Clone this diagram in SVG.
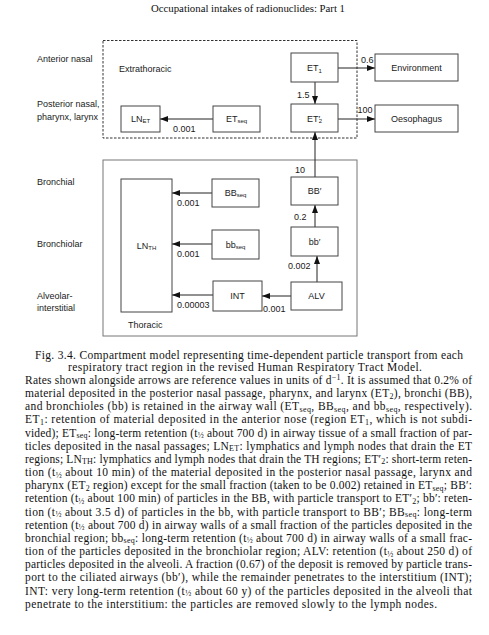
<svg xmlns="http://www.w3.org/2000/svg" width="489" height="635" viewBox="0 0 489 635">
<style>
.box{fill:#fff;stroke:#444;stroke-width:1}
.lbl{font-family:"Liberation Sans",Arial,sans-serif;font-size:9px;fill:#1a1a1a}
.c{text-anchor:middle}
.sub{font-size:6px}
.pr{font-size:9px}
.con{stroke:#222;stroke-width:1;fill:none;marker-end:url(#ah)}
.ser{font-family:"Liberation Serif","Times New Roman",serif;font-size:11.5px;fill:#111}
.s{font-size:8px}
</style>
<defs>
<marker id="ah" markerUnits="userSpaceOnUse" markerWidth="8" markerHeight="6" refX="8" refY="3" orient="auto">
<path d="M0,0 L8,3 L0,6 z" fill="#111"/>
</marker>
</defs>
<rect width="489" height="635" fill="#fff"/>
<text class="ser" x="151" y="12" style="font-size:10.8px" textLength="194" lengthAdjust="spacing">Occupational intakes of radionuclides: Part 1</text>

<g id="regions">
<rect id="extrathoracic" x="103" y="40.5" width="254" height="97.5" fill="none" stroke="#333" stroke-width="1" stroke-dasharray="2.5,1.5"/>
<text class="lbl" x="119" y="71.5">Extrathoracic</text>
<rect id="thoracic" x="103" y="160" width="254" height="176" fill="none" stroke="#777" stroke-width="1"/>
<text class="lbl" x="128" y="328">Thoracic</text>
<text class="lbl" x="37" y="62">Anterior nasal</text>
<text class="lbl" x="37" y="107">Posterior nasal,</text>
<text class="lbl" x="37" y="119.5">pharynx, larynx</text>
<text class="lbl" x="37" y="185">Bronchial</text>
<text class="lbl" x="37" y="246.5">Bronchiolar</text>
<text class="lbl" x="37" y="299">Alveolar-</text>
<text class="lbl" x="37" y="311">interstitial</text>
</g>

<g id="connectors">
<line class="con" x1="338" y1="68" x2="375" y2="68"/>
<line class="con" x1="338" y1="119" x2="375" y2="119"/>
<line class="con" x1="315" y1="82" x2="315" y2="104"/>
<line class="con" x1="315" y1="177" x2="315" y2="132"/>
<line class="con" x1="315" y1="227" x2="315" y2="205"/>
<line class="con" x1="317" y1="282" x2="317" y2="256"/>
<line class="con" x1="291" y1="296" x2="262" y2="296"/>
<line class="con" x1="213" y1="119" x2="160" y2="119"/>
<line class="con" x1="212" y1="193" x2="172" y2="193"/>
<line class="con" x1="212" y1="244" x2="172" y2="244"/>
<line class="con" x1="213" y1="295" x2="172" y2="295"/>
<text class="lbl" x="361" y="63">0.6</text>
<text class="lbl" x="357.5" y="113">100</text>
<text class="lbl" x="297" y="98">1.5</text>
<text class="lbl" x="173" y="132">0.001</text>
<text class="lbl" x="295" y="173">10</text>
<text class="lbl" x="294" y="220">0.2</text>
<text class="lbl" x="288" y="269">0.002</text>
<text class="lbl" x="263" y="312">0.001</text>
<text class="lbl" x="177" y="206">0.001</text>
<text class="lbl" x="177" y="257">0.001</text>
<text class="lbl" x="177" y="308">0.00003</text>
</g>

<g id="ET1"><rect class="box" x="291" y="53" width="47" height="29"/><text class="lbl c" x="314.5" y="71">ET<tspan class="sub" dy="1.5">1</tspan></text></g>
<g id="Environment"><rect class="box" x="375" y="54" width="83" height="27"/><text class="lbl c" x="416.5" y="71">Environment</text></g>
<g id="ET2p"><rect class="box" x="291" y="104" width="47" height="28"/><text class="lbl c" x="314.5" y="121.5">ET<tspan class="pr">′</tspan><tspan class="sub" dx="-1.5" dy="1.5">2</tspan></text></g>
<g id="Oesophagus"><rect class="box" x="375" y="105" width="83" height="27"/><text class="lbl c" x="416.5" y="122">Oesophagus</text></g>
<g id="LNET"><rect class="box" x="121" y="106" width="39" height="26"/><text class="lbl c" x="140.5" y="122">LN<tspan class="sub" dy="1">ET</tspan></text></g>
<g id="ETseq"><rect class="box" x="213" y="106" width="47" height="26"/><text class="lbl c" x="236.5" y="122">ET<tspan class="sub" dy="1">seq</tspan></text></g>
<g id="LNTH"><rect class="box" x="121" y="179" width="51" height="133"/><text class="lbl c" x="146.5" y="249">LN<tspan class="sub" dy="1">TH</tspan></text></g>
<g id="BBseq"><rect class="box" x="212" y="179" width="47" height="28"/><text class="lbl c" x="235.5" y="196">BB<tspan class="sub" dy="1">seq</tspan></text></g>
<g id="bbseq"><rect class="box" x="212" y="230" width="47" height="29"/><text class="lbl c" x="235.5" y="247.5">bb<tspan class="sub" dy="1">seq</tspan></text></g>
<g id="INT"><rect class="box" x="213" y="281" width="49" height="30"/><text class="lbl c" x="237.5" y="299">INT</text></g>
<g id="BBp"><rect class="box" x="291" y="177" width="47" height="28"/><text class="lbl c" x="314.5" y="194">BB′</text></g>
<g id="bbp"><rect class="box" x="291" y="227" width="47" height="29"/><text class="lbl c" x="314.5" y="244.5">bb′</text></g>
<g id="ALV"><rect class="box" x="291" y="282" width="51" height="28"/><text class="lbl c" x="316.5" y="299">ALV</text></g>

<g id="caption">
<text class="ser" x="35" y="358.5" textLength="428" lengthAdjust="spacing">Fig. 3.4.  Compartment model representing time-dependent particle transport from each</text>
<text class="ser" x="68" y="371" textLength="354" lengthAdjust="spacing">respiratory tract region in the revised Human Respiratory Tract Model.</text>
<text class="ser" x="25" y="384" textLength="447" lengthAdjust="spacing">Rates shown alongside arrows are reference values in units of d<tspan class="s" dy="-4">−1</tspan><tspan dy="4">. It is assumed that 0.2% of</tspan></text>
<text class="ser" x="25" y="397" textLength="447" lengthAdjust="spacing">material deposited in the posterior nasal passage, pharynx, and larynx (ET<tspan class="s" dy="1.5">2</tspan><tspan dy="-1.5">), bronchi (BB),</tspan></text>
<text class="ser" x="25" y="410" textLength="447" lengthAdjust="spacing">and bronchioles (bb) is retained in the airway wall (ET<tspan class="s" dy="1.5">seq</tspan><tspan dy="-1.5">, BB</tspan><tspan class="s" dy="1.5">seq</tspan><tspan dy="-1.5">, and bb</tspan><tspan class="s" dy="1.5">seq</tspan><tspan dy="-1.5">, respectively).</tspan></text>
<text class="ser" x="25" y="423" textLength="447" lengthAdjust="spacing">ET<tspan class="s" dy="1.5">1</tspan><tspan dy="-1.5">: retention of material deposited in the anterior nose (region ET</tspan><tspan class="s" dy="1.5">1</tspan><tspan dy="-1.5">, which is not subdi-</tspan></text>
<text class="ser" x="25" y="436.5" textLength="447" lengthAdjust="spacing">vided); ET<tspan class="s" dy="1.5">seq</tspan><tspan dy="-1.5">: long-term retention (t</tspan><tspan class="s" dy="1.5">½</tspan><tspan dy="-1.5"> about 700 d) in airway tissue of a small fraction of par-</tspan></text>
<text class="ser" x="25" y="449.5" textLength="447" lengthAdjust="spacing">ticles deposited in the nasal passages; LN<tspan class="s" dy="1.5">ET</tspan><tspan dy="-1.5">: lymphatics and lymph nodes that drain the ET</tspan></text>
<text class="ser" x="25" y="462.5" textLength="447" lengthAdjust="spacing">regions; LN<tspan class="s" dy="1.5">TH</tspan><tspan dy="-1.5">: lymphatics and lymph nodes that drain the TH regions; ET′</tspan><tspan class="s" dy="1.5">2</tspan><tspan dy="-1.5">: short-term reten-</tspan></text>
<text class="ser" x="25" y="476" textLength="447" lengthAdjust="spacing">tion (t<tspan class="s" dy="1.5">½</tspan><tspan dy="-1.5"> about 10 min) of the material deposited in the posterior nasal passage, larynx and</tspan></text>
<text class="ser" x="25" y="489" textLength="447" lengthAdjust="spacing">pharynx (ET<tspan class="s" dy="1.5">2</tspan><tspan dy="-1.5"> region) except for the small fraction (taken to be 0.002) retained in ET</tspan><tspan class="s" dy="1.5">seq</tspan><tspan dy="-1.5">; BB′:</tspan></text>
<text class="ser" x="25" y="502" textLength="447" lengthAdjust="spacing">retention (t<tspan class="s" dy="1.5">½</tspan><tspan dy="-1.5"> about 100 min) of particles in the BB, with particle transport to ET′</tspan><tspan class="s" dy="1.5">2</tspan><tspan dy="-1.5">; bb′: reten-</tspan></text>
<text class="ser" x="25" y="515.5" textLength="447" lengthAdjust="spacing">tion (t<tspan class="s" dy="1.5">½</tspan><tspan dy="-1.5"> about 3.5 d) of particles in the bb, with particle transport to BB′; BB</tspan><tspan class="s" dy="1.5">seq</tspan><tspan dy="-1.5">: long-term</tspan></text>
<text class="ser" x="25" y="528.5" textLength="447" lengthAdjust="spacing">retention (t<tspan class="s" dy="1.5">½</tspan><tspan dy="-1.5"> about 700 d) in airway walls of a small fraction of the particles deposited in the</tspan></text>
<text class="ser" x="25" y="541.5" textLength="447" lengthAdjust="spacing">bronchial region; bb<tspan class="s" dy="1.5">seq</tspan><tspan dy="-1.5">: long-term retention (t</tspan><tspan class="s" dy="1.5">½</tspan><tspan dy="-1.5"> about 700 d) in airway walls of a small frac-</tspan></text>
<text class="ser" x="25" y="555" textLength="447" lengthAdjust="spacing">tion of the particles deposited in the bronchiolar region; ALV: retention (t<tspan class="s" dy="1.5">½</tspan><tspan dy="-1.5"> about 250 d) of</tspan></text>
<text class="ser" x="25" y="568" textLength="447" lengthAdjust="spacing">particles deposited in the alveoli. A fraction (0.67) of the deposit is removed by particle trans-</text>
<text class="ser" x="25" y="581" textLength="447" lengthAdjust="spacing">port to the ciliated airways (bb′), while the remainder penetrates to the interstitium (INT);</text>
<text class="ser" x="25" y="594.5" textLength="447" lengthAdjust="spacing">INT: very long-term retention (t<tspan class="s" dy="1.5">½</tspan><tspan dy="-1.5"> about 60 y) of the particles deposited in the alveoli that</tspan></text>
<text class="ser" x="25" y="607.5" textLength="412" lengthAdjust="spacing">penetrate to the interstitium: the particles are removed slowly to the lymph nodes.</text>
</g>
</svg>
